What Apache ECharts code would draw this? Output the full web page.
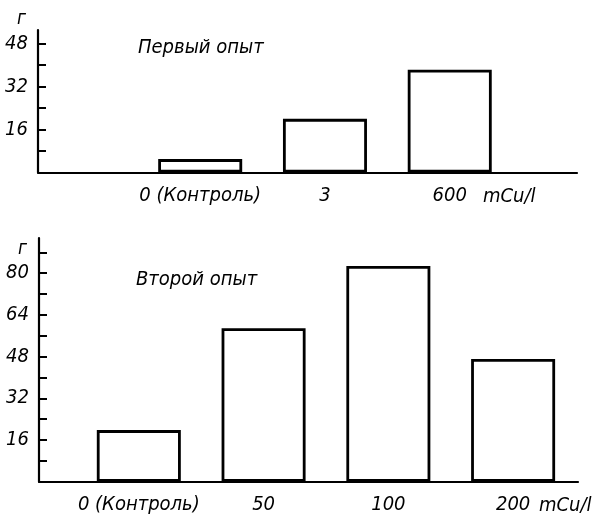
<!DOCTYPE html>
<html>
<head>
<meta charset="utf-8">
<script src="https://cdn.jsdelivr.net/npm/echarts@6/dist/echarts.min.js"></script>
<style>
  html, body { margin: 0; padding: 0; background: #fff; }
  #chart { width: 593px; height: 515px; }
</style>
</head>
<body>
<div id="chart"></div>
<script>
// данные: первый опыт
var firstTitle = 'Первый опыт';
var firstCats = ['0 (Контроль)', '3', '600'];
var firstValues = [5, 20, 38.3];
var firstTicks = [8, 16, 24, 32, 40, 48];
var firstTickLabels = [16, 32, 48];

// данные: второй опыт
var secondTitle = 'Второй опыт';
var secondCats = ['0 (Контроль)', '50', '100', '200'];
var secondValues = [19.8, 58.9, 82.8, 47.1];
var secondTicks = [8, 16, 24, 32, 40, 48, 56, 64, 72, 80, 88];
var secondTickLabels = [16, 32, 48, 64, 80];

var yUnit = 'г';
var xUnit = 'mCu/l';

var FONT = "'Liberation Sans Narrow', 'DejaVu Sans Condensed', sans-serif";

function displayChart() {
    var myChart = echarts.init(document.getElementById('chart'));

    function barSeries(cats, values, gi, shift) {
        return {
            type: 'bar',
            xAxisIndex: gi,
            yAxisIndex: gi,
            barWidth: 84,
            animation: false,
            data: values.map(function (v, i) { return [i + shift, v]; }),
            itemStyle: { color: '#fff', borderColor: '#000', borderWidth: 2.8 },
            label: {
                show: true,
                position: 'bottom',
                distance: 13,
                color: '#000',
                fontFamily: FONT,
                fontStyle: 'italic',
                fontSize: 20,
                formatter: function (p) { return cats[p.dataIndex]; }
            }
        };
    }

    function xAxis(gi, gap) {
        return {
            type: 'value',
            gridIndex: gi,
            min: 0.2,
            max: 4.52,
            axisLine: { show: true, lineStyle: { color: '#000', width: 2.2 } },
            axisTick: { show: false },
            axisLabel: { show: false },
            splitLine: { show: false },
            name: xUnit,
            nameLocation: 'end',
            nameGap: gap,
            nameTextStyle: {
                color: '#000', fontFamily: FONT, fontStyle: 'italic', fontSize: 20,
                align: 'left', verticalAlign: 'top', padding: [14, 0, 0, 0]
            }
        };
    }

    function yAxis(gi, max, ticks, labels, gap) {
        return {
            type: 'value',
            gridIndex: gi,
            min: 0,
            max: max,
            axisLine: { show: true, lineStyle: { color: '#000', width: 2.2 } },
            axisTick: {
                show: true, inside: true, length: 8,
                customValues: ticks,
                lineStyle: { color: '#000', width: 2 }
            },
            axisLabel: {
                show: true, margin: 10, customValues: labels,
                color: '#000', fontFamily: FONT, fontStyle: 'italic', fontSize: 20
            },
            splitLine: { show: false },
            name: yUnit,
            nameLocation: 'end',
            nameGap: gap,
            nameTextStyle: {
                color: '#000', fontFamily: FONT, fontStyle: 'italic', fontSize: 19,
                align: 'right', verticalAlign: 'middle', padding: [0, 12, 0, 0]
            }
        };
    }

    var option = {
        backgroundColor: '#fff',
        animation: false,
        title: [
            {
                text: firstTitle, left: 133, top: 33,
                textStyle: { fontFamily: FONT, fontStyle: 'italic', fontWeight: 'normal', fontSize: 20, color: '#000' }
            },
            {
                text: secondTitle, left: 131, top: 265,
                textStyle: { fontFamily: FONT, fontStyle: 'italic', fontWeight: 'normal', fontSize: 20, color: '#000' }
            }
        ],
        grid: [
            { left: 38, width: 539, top: 30, height: 142.5, outerBoundsMode: 'none', containLabel: false },
            { left: 39, width: 539, top: 238, height: 243.7, outerBoundsMode: 'none', containLabel: false }
        ],
        xAxis: [xAxis(0, -94), xAxis(1, -39)],
        yAxis: [
            yAxis(0, 53.1, firstTicks, firstTickLabels, 11),
            yAxis(1, 93.5, secondTicks, secondTickLabels, -11)
        ],
        series: [
            barSeries(firstCats, firstValues, 0, 1.5),
            barSeries(secondCats, secondValues, 1, 1)
        ]
    };

    myChart.setOption(option);
    window.addEventListener('resize', function () {
        myChart.resize();
    });
}
displayChart();
</script>
</body>
</html>
